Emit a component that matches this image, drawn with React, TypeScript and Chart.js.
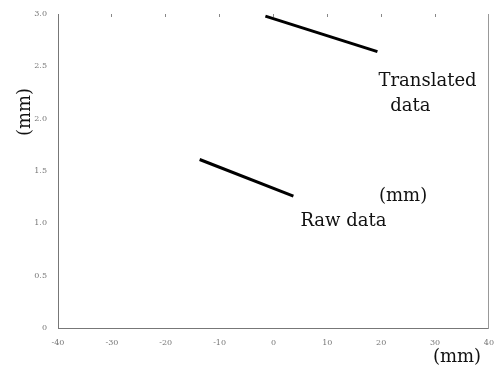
import React, { useEffect, useRef } from "react";
import { Chart, registerables } from "chart.js";

Chart.register(...registerables);

const xTicks = [-40, -30, -20, -10, 0, 10, 20, 30, 40];
const yTicks = [0, 0.5, 1, 1.5, 2, 2.5, 3];

const translatedX = [-1.5, 19.3];
const translatedY = [2.98, 2.64];
const rawX = [-13.7, 3.7];
const rawY = [1.61, 1.26];

const annoText = ["Translated", "data", "(mm)", "Raw data"];
const annoX = [19.5, 21.7, 19.6, 5.0];
const annoY = [2.31, 2.07, 1.21, 0.97];

const xTitle = "(mm)";
const yTitle = "(mm)";

const FONT = "'DejaVu Serif', 'Liberation Serif', serif";

export default function App() {
  const ref = useRef<HTMLCanvasElement | null>(null);
  useEffect(() => {
    document.body.style.margin = "0";
    const ctx = ref.current!.getContext("2d")!;
    const annoPlugin = {
      id: "anno",
      afterDraw(chart: any) {
        const c = chart.ctx;
        const xs = chart.scales.x;
        const ys = chart.scales.y;
        c.save();
        c.fillStyle = "#111";
        c.font = `18px ${FONT}`;
        c.textAlign = "left";
        c.textBaseline = "alphabetic";
        annoText.forEach((t, i) => {
          c.fillText(t, xs.getPixelForValue(annoX[i]), ys.getPixelForValue(annoY[i]));
        });
        c.font = `18px ${FONT}`;
        c.textAlign = "center";
        c.textBaseline = "middle";
        c.fillText(xTitle, 457, 357);
        c.translate(25, 112);
        c.rotate(-Math.PI / 2);
        c.fillText(yTitle, 0, 0);
        c.restore();
      },
    };
    const chart = new Chart(ctx, {
      type: "scatter",
      data: {
        datasets: [
          {
            label: "Translated data",
            data: translatedX.map((x, i) => ({ x, y: translatedY[i] })),
            showLine: true,
            borderColor: "#000",
            borderWidth: 3,
            pointRadius: 0,
          },
          {
            label: "Raw data",
            data: rawX.map((x, i) => ({ x, y: rawY[i] })),
            showLine: true,
            borderColor: "#000",
            borderWidth: 3,
            pointRadius: 0,
          },
        ],
      },
      options: {
        animation: false,
        responsive: false,
        layout: { padding: { top: 14, right: 6, left: 0, bottom: 0 } },
        plugins: { legend: { display: false }, tooltip: { enabled: false } },
        scales: {
          x: {
            type: "linear",
            min: xTicks[0],
            max: xTicks[xTicks.length - 1],
            afterBuildTicks: (s: any) => {
              s.ticks = xTicks.map((v) => ({ value: v }));
            },
            afterFit: (s: any) => {
              s.height = 42;
            },
            grid: { display: false },
            border: { display: true, color: "#777", width: 1, dash: [1, 1] },
            ticks: { color: "#777", font: { size: 8, family: FONT }, padding: 2 },
          },
          y: {
            type: "linear",
            min: yTicks[0],
            max: yTicks[yTicks.length - 1],
            afterBuildTicks: (s: any) => {
              s.ticks = yTicks.map((v) => ({ value: v }));
            },
            afterFit: (s: any) => {
              s.width = 58;
            },
            grid: { display: false },
            border: { display: true, color: "#777", width: 1, dash: [1, 1] },
            ticks: { color: "#777", font: { size: 8, family: FONT }, padding: 3 },
          },
          y2: {
            type: "linear",
            position: "right",
            min: yTicks[0],
            max: yTicks[yTicks.length - 1],
            afterFit: (s: any) => {
              s.width = 0;
            },
            grid: { display: false },
            border: { display: true, color: "#999", width: 1, dash: [1, 2] },
            ticks: { display: false },
          },
          x2: {
            type: "linear",
            position: "top",
            min: xTicks[0],
            max: xTicks[xTicks.length - 1],
            afterBuildTicks: (s: any) => {
              s.ticks = xTicks.map((v) => ({ value: v }));
            },
            afterFit: (s: any) => {
              s.height = 0;
            },
            grid: {
              display: true,
              drawOnChartArea: false,
              drawTicks: true,
              tickLength: -3,
              color: "#888",
            },
            border: { display: false },
            ticks: { display: false },
          },
        },
      },
      plugins: [annoPlugin],
    });
    return () => chart.destroy();
  }, []);
  return (
    <div style={{ position: "fixed", left: 0, top: 0, width: 496, height: 370, background: "#fff" }}>
      <canvas ref={ref} width={496} height={370} style={{ display: "block" }} />
    </div>
  );
}
